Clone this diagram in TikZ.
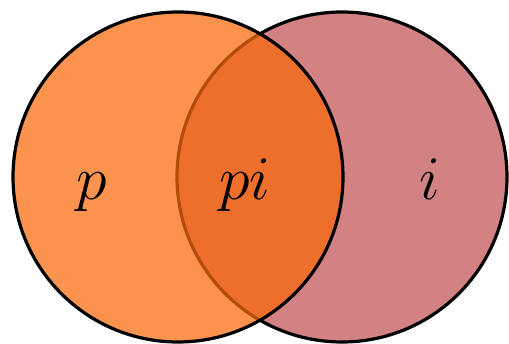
\RequirePackage{fix-cm}
\documentclass[tikz,border=0pt]{standalone}
\usepackage{fontspec}
\definecolor{leftorange}{RGB}{250,105,10}
\definecolor{rightpink}{RGB}{210,130,130}
\tikzset{
  venn/.style={line width=3.2pt},
  lbl/.style={anchor=base,font=\fontsize{62}{62}\selectfont}
}
\begin{document}
\begin{tikzpicture}[x=1pt,y=-1pt]
\useasboundingbox (0,0) rectangle (509,344);
\path[venn,fill=rightpink,draw=black] (342,177) circle[radius=165];
\path[venn,fill=leftorange,fill opacity=0.72,draw=black] (178,177) circle[radius=165];
\node[lbl] (p) at (92,200) {$p$};
\node[lbl] (pi) at (245,200) {$pi$};
\node[lbl] (i) at (430,200) {$i$};
\end{tikzpicture}
\end{document}
